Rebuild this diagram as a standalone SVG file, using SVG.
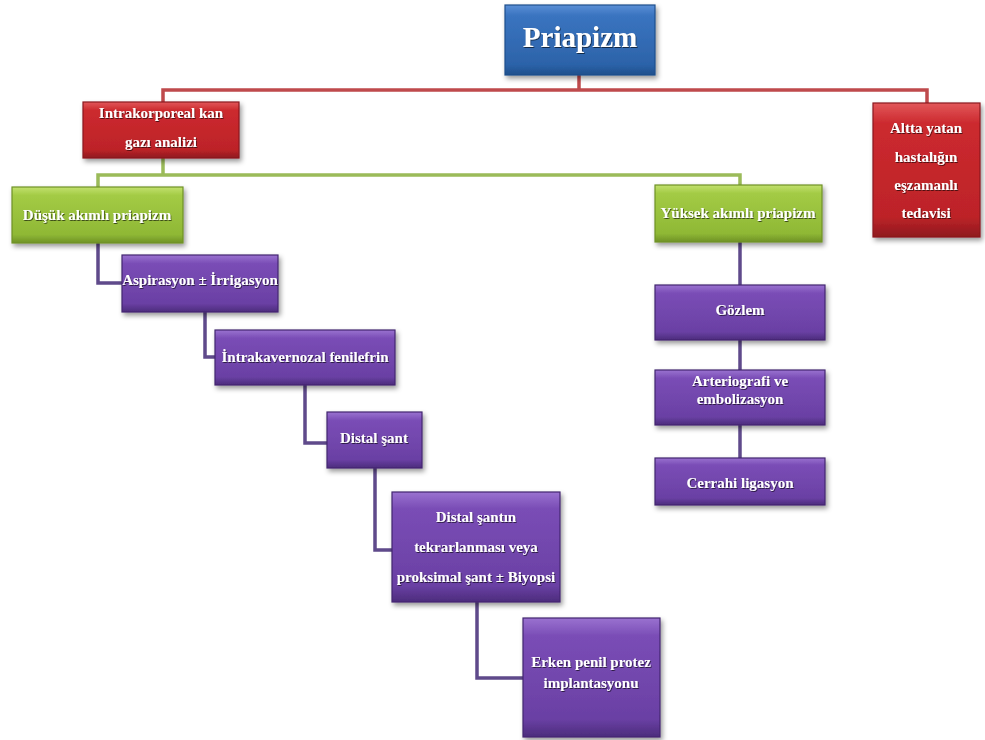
<svg xmlns="http://www.w3.org/2000/svg" width="985" height="740" viewBox="0 0 985 740">
<defs>
<linearGradient id="gBlue" x1="0" y1="0" x2="0" y2="1">
<stop offset="0" stop-color="#5b8fd6"/><stop offset="0.15" stop-color="#3a74c0"/><stop offset="0.85" stop-color="#2c63a9"/><stop offset="1" stop-color="#1f4f8c"/>
</linearGradient>
<linearGradient id="gRed" x1="0" y1="0" x2="0" y2="1">
<stop offset="0" stop-color="#e2575a"/><stop offset="0.15" stop-color="#cc2a2f"/><stop offset="0.85" stop-color="#bd2328"/><stop offset="1" stop-color="#8f191e"/>
</linearGradient>
<linearGradient id="gGreen" x1="0" y1="0" x2="0" y2="1">
<stop offset="0" stop-color="#c2e06e"/><stop offset="0.15" stop-color="#a3cb45"/><stop offset="0.85" stop-color="#8fb835"/><stop offset="1" stop-color="#6f9226"/>
</linearGradient>
<linearGradient id="gPurple" x1="0" y1="0" x2="0" y2="1">
<stop offset="0" stop-color="#9a72d0"/><stop offset="0.15" stop-color="#7a4db6"/><stop offset="0.85" stop-color="#6a40a4"/><stop offset="1" stop-color="#4c2c7c"/>
</linearGradient>
<filter id="sh" x="-10%" y="-10%" width="125%" height="130%">
<feDropShadow dx="2" dy="3" stdDeviation="2.5" flood-color="#000" flood-opacity="0.4"/>
</filter>
<filter id="tsh" x="-5%" y="-20%" width="110%" height="150%">
<feDropShadow dx="0.8" dy="1" stdDeviation="0.6" flood-color="#000" flood-opacity="0.6"/>
</filter>
</defs>
<style>
.box{stroke-width:1.2;filter:url(#sh)}
.blue{fill:url(#gBlue);stroke:#1f4f8c}
.red{fill:url(#gRed);stroke:#8a1a1e}
.green{fill:url(#gGreen);stroke:#6f9226}
.purple{fill:url(#gPurple);stroke:#432670}
text{font-family:"Liberation Serif","Times New Roman",serif;fill:#fff;font-weight:bold;text-anchor:middle;dominant-baseline:central;filter:url(#tsh)}
.t{font-size:15px}
.title{font-size:29px}
.cr{fill:none;stroke:#bf4a4c;stroke-width:3.5}
.cg{fill:none;stroke:#9bbb59;stroke-width:3.5}
.cp{fill:none;stroke:#5f4a8b;stroke-width:3.5}
</style>
<rect width="985" height="740" fill="#ffffff"/>
<g id="connectors">
<polyline class="cr" points="579,75 579,90"/>
<polyline class="cr" points="163,102 163,90 927,90 927,103"/>
<polyline class="cg" points="163,158 163,175"/>
<polyline class="cg" points="98,188 98,175 740,175 740,185"/>
<polyline class="cp" points="98,243 98,283 122,283"/>
<polyline class="cp" points="205,312 205,357 215,357"/>
<polyline class="cp" points="305,385 305,443 327,443"/>
<polyline class="cp" points="375,468 375,550 392,550"/>
<polyline class="cp" points="477,602 477,678 523,678"/>
<polyline class="cp" points="740,242 740,285"/>
<polyline class="cp" points="740,340 740,370"/>
<polyline class="cp" points="740,425 740,458"/>
</g>
<g id="n-priapizm"><rect class="box blue" x="505" y="5" width="150" height="70"/><text class="title" x="580" y="37">Priapizm</text></g>
<g id="n-intrakorporeal"><rect class="box red" x="83" y="102" width="156" height="56"/><text class="t" x="161" y="113">Intrakorporeal kan</text><text class="t" x="161" y="142">gazı analizi</text></g>
<g id="n-altta"><rect class="box red" x="873" y="103" width="107" height="134"/><text class="t" x="926" y="128">Altta yatan</text><text class="t" x="926" y="157">hastalığın</text><text class="t" x="926" y="185">eşzamanlı</text><text class="t" x="926" y="213">tedavisi</text></g>
<g id="n-dusuk"><rect class="box green" x="12" y="187" width="171" height="56"/><text class="t" x="97" y="215">Düşük akımlı priapizm</text></g>
<g id="n-yuksek"><rect class="box green" x="655" y="185" width="167" height="57"/><text class="t" x="738" y="213">Yüksek akımlı priapizm</text></g>
<g id="n-aspirasyon"><rect class="box purple" x="122" y="255" width="156" height="57"/><text class="t" x="200" y="280">Aspirasyon ± İrrigasyon</text></g>
<g id="n-intrakavernozal"><rect class="box purple" x="215" y="330" width="180" height="55"/><text class="t" x="305" y="357">İntrakavernozal fenilefrin</text></g>
<g id="n-distal"><rect class="box purple" x="327" y="412" width="95" height="56"/><text class="t" x="374" y="438">Distal şant</text></g>
<g id="n-distal2"><rect class="box purple" x="392" y="492" width="168" height="110"/><text class="t" x="476" y="517">Distal şantın</text><text class="t" x="476" y="547">tekrarlanması veya</text><text class="t" x="476" y="577">proksimal şant ± Biyopsi</text></g>
<g id="n-erken"><rect class="box purple" x="523" y="618" width="137" height="119"/><text class="t" x="591" y="662">Erken penil protez</text><text class="t" x="591" y="683">implantasyonu</text></g>
<g id="n-gozlem"><rect class="box purple" x="655" y="285" width="170" height="55"/><text class="t" x="740" y="310">Gözlem</text></g>
<g id="n-arteriografi"><rect class="box purple" x="655" y="370" width="170" height="55"/><text class="t" x="740" y="381">Arteriografi ve</text><text class="t" x="740" y="399">embolizasyon</text></g>
<g id="n-cerrahi"><rect class="box purple" x="655" y="458" width="170" height="47"/><text class="t" x="740" y="483">Cerrahi ligasyon</text></g>
</svg>
